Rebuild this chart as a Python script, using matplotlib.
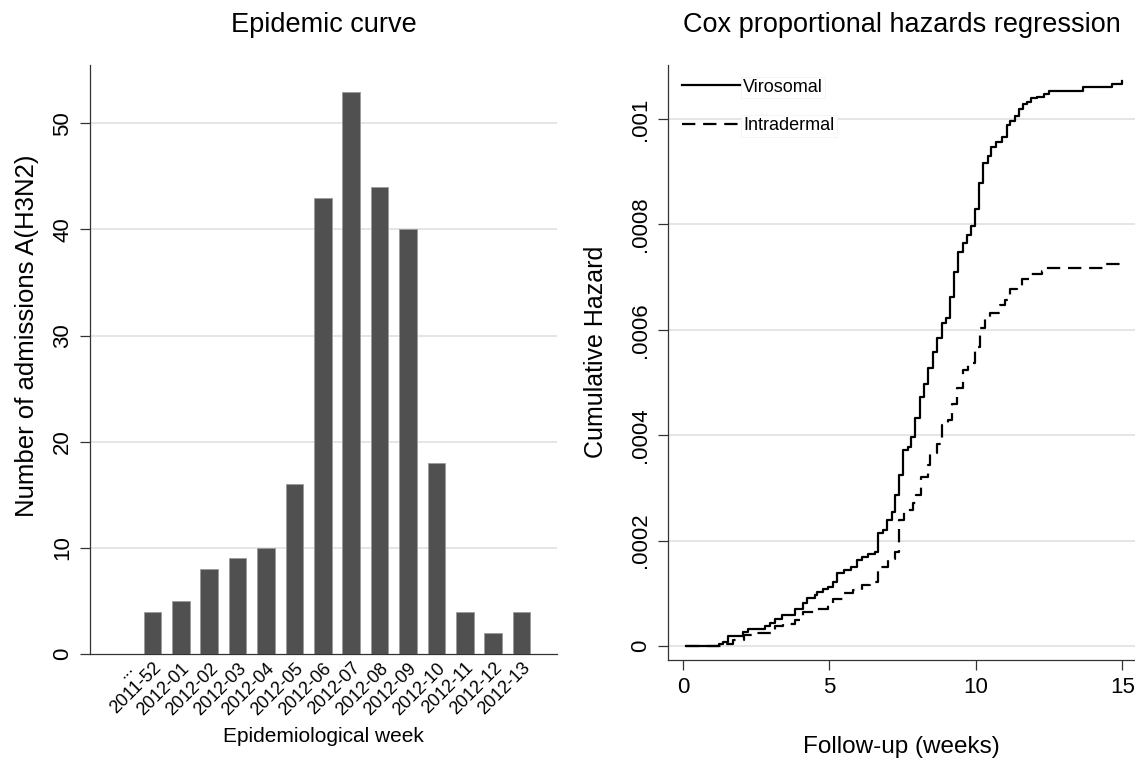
import matplotlib
matplotlib.use("Agg")
import matplotlib.pyplot as plt
import numpy as np

plt.rcParams['font.family'] = ['Liberation Sans', 'DejaVu Sans']

# epidemic curve: admissions per epidemiological week
weeks = ["...", "2011-52", "2012-01", "2012-02", "2012-03", "2012-04", "2012-05",
         "2012-06", "2012-07", "2012-08", "2012-09", "2012-10", "2012-11",
         "2012-12", "2012-13"]
admissions = [0, 4, 5, 8, 9, 10, 16, 43, 53, 44, 40, 18, 4, 2, 4]

# cumulative hazard (units of 1e-4)
viro_t = [0.10, 1.24, 1.38, 1.55, 2.06, 2.23, 2.80, 2.97, 3.14, 3.37, 3.82, 4.11,
          4.24, 4.50, 4.58, 4.77, 4.96, 5.13, 5.27, 5.50, 5.72, 5.95, 6.12, 6.32,
          6.55, 6.67, 6.84, 6.95, 7.12, 7.24, 7.38, 7.52, 7.69, 7.80, 7.92, 8.09,
          8.22, 8.37, 8.52, 8.68, 8.83, 8.98, 9.11, 9.26, 9.40, 9.55, 9.68, 9.83,
          9.97, 10.11, 10.25, 10.40, 10.53, 10.70, 10.90, 11.06, 11.18, 11.35,
          11.47, 11.61, 11.76, 11.87, 12.10, 12.33, 12.50, 13.67, 14.66, 14.98]
viro_h = [0, 0.04, 0.08, 0.18, 0.26, 0.33, 0.38, 0.43, 0.51, 0.59, 0.71, 0.81,
          0.92, 0.97, 1.03, 1.08, 1.11, 1.22, 1.39, 1.44, 1.50, 1.63, 1.69, 1.745,
          1.79, 2.14, 2.20, 2.39, 2.55, 2.87, 3.24, 3.72, 3.78, 3.97, 4.32, 4.73,
          4.98, 5.27, 5.58, 5.84, 6.12, 6.22, 6.63, 7.10, 7.48, 7.65, 7.80, 7.97,
          8.30, 8.78, 9.16, 9.30, 9.47, 9.57, 9.65, 9.89, 9.96, 10.06,
          10.19, 10.29, 10.32, 10.39, 10.42, 10.48, 10.54, 10.60, 10.67, 10.73]

intra_t = [0.10, 1.30, 1.72, 2.10, 2.40, 3.14, 3.40, 3.82, 4.10, 4.50, 4.96, 5.13,
           5.50, 5.80, 6.10, 6.40, 6.67, 7.01, 7.24, 7.38, 7.55, 7.84, 7.96, 8.13,
           8.37, 8.43, 8.66, 8.83, 9.06, 9.17, 9.34, 9.57, 9.74, 9.97, 10.14, 10.31,
           10.48, 10.83, 11.00, 11.18, 11.41, 11.58, 11.87, 12.27, 12.40, 14.37, 14.98]
intra_h = [0, 0.04, 0.11, 0.20, 0.24, 0.37, 0.42, 0.49, 0.65, 0.71, 0.78, 0.90,
           1.00, 1.06, 1.16, 1.22, 1.50, 1.66, 1.79, 2.39, 2.58, 2.71, 2.87, 3.21,
           3.43, 3.66, 3.83, 4.19, 4.29, 4.60, 4.89, 5.24, 5.37, 5.68, 6.03, 6.20,
           6.31, 6.47, 6.57, 6.77, 6.83, 6.96, 7.05, 7.12, 7.18, 7.25, 7.30]

haz_ticks = [0, 0.0002, 0.0004, 0.0006, 0.0008, 0.001]
haz_labels = ["0", ".0002", ".0004", ".0006", ".0008", ".001"]

axis_col = "#333333"
grid_col = "#e3e3e3"

fig = plt.figure(figsize=(11.35, 7.63), dpi=100)

# ---- left: epidemic curve
ax1 = fig.add_axes([90/1135, 109/763, 467/1135, 589/763])
x = np.arange(len(weeks))
ax1.bar(x, admissions, width=0.62, color="#505050", edgecolor="#9a9a9a",
        linewidth=0.6, zorder=3)
ax1.set_xlim(-1.2, 15.25)
ax1.set_ylim(0, 55.5)
ax1.set_yticks([0, 10, 20, 30, 40, 50])
ax1.set_xticks(x)
ax1.set_xticklabels(weeks, rotation=45, ha="right", va="top",
                    rotation_mode="anchor", fontsize=13)
ax1.tick_params(axis="x", length=0, pad=4)
ax1.tick_params(axis="y", length=7, width=0.9, color=axis_col, labelsize=16,
                labelrotation=90, pad=5)
for lab in ax1.get_yticklabels():
    lab.set_va("center")
for v in [10, 20, 30, 40, 50]:
    ax1.axhline(v, color=grid_col, lw=1.3, zorder=1)
ax1.set_title("Epidemic curve", fontsize=19.5, pad=24)
ax1.set_xlabel("Epidemiological week", fontsize=15)
ax1.xaxis.set_label_coords(0.5, -0.124)
ax1.set_ylabel("Number of admissions A(H3N2)", fontsize=18.5)
ax1.yaxis.set_label_coords(-0.11, 0.54)

# ---- right: cumulative hazard
ax2 = fig.add_axes([668/1135, 103/763, 467/1135, 595/763])
ax2.plot(viro_t, np.array(viro_h) * 1e-4, drawstyle="steps-post", color="black",
         lw=1.6, label="Virosomal", zorder=3)
ax2.plot(intra_t, np.array(intra_h) * 1e-4, drawstyle="steps-post", color="black",
         lw=1.6, dashes=(6, 3.5), label="Intradermal", zorder=3)
ax2.set_xlim(-0.51, 15.43)
ax2.set_ylim(-0.0000266, 0.0011025)
ax2.set_xticks([0, 5, 10, 15])
ax2.set_yticks(haz_ticks)
ax2.set_yticklabels(haz_labels)
ax2.tick_params(axis="x", length=7, width=0.9, color=axis_col, labelsize=16, pad=5)
ax2.tick_params(axis="y", length=7, width=0.9, color=axis_col, labelsize=16,
                labelrotation=90, pad=5)
for lab in ax2.get_yticklabels():
    lab.set_va("center")
for v in haz_ticks:
    ax2.axhline(v, color=grid_col, lw=1.3, zorder=1)
ax2.set_title("Cox proportional hazards regression", fontsize=19.5, pad=24)
ax2.set_xlabel("Follow-up (weeks)", fontsize=17.5)
ax2.xaxis.set_label_coords(0.5, -0.128)
ax2.set_ylabel("Cumulative Hazard", fontsize=18)
ax2.yaxis.set_label_coords(-0.128, 0.518)

leg = ax2.legend(loc="upper left", bbox_to_anchor=(0.03, 0.977), frameon=False,
                 fontsize=13, handlelength=3.4, handletextpad=0.0,
                 labelspacing=1.2, borderpad=0, borderaxespad=0)
for t in leg.get_texts():
    t.set_bbox(dict(facecolor="white", edgecolor="#f2f2f2", pad=1.5, lw=0.6))

for ax in (ax1, ax2):
    for s in ("top", "right"):
        ax.spines[s].set_visible(False)
    for s in ("left", "bottom"):
        ax.spines[s].set_color(axis_col)
        ax.spines[s].set_linewidth(0.9)
    ax.set_axisbelow(True)

fig.savefig("out.png", dpi=100)
